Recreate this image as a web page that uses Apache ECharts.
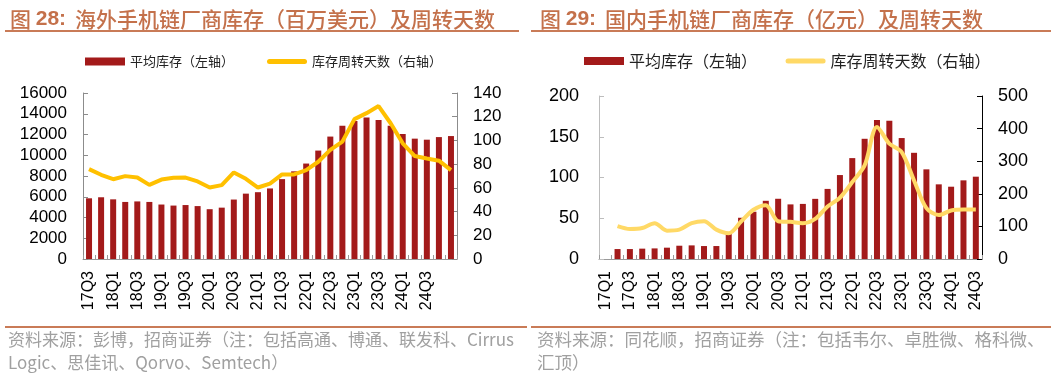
<!DOCTYPE html>
<html>
<head>
<meta charset="utf-8">
<script src="https://cdn.jsdelivr.net/npm/echarts@6/dist/echarts.min.js"></script>
<style>
html,body{margin:0;padding:0;background:#fff;}
#c{width:1054px;height:380px;}
</style>
</head>
<body>
<div id="c"></div>
<script>
// ---- Left chart (海外) ----
const catsL = ['17Q3','17Q4','18Q1','18Q2','18Q3','18Q4','19Q1','19Q2','19Q3','19Q4','20Q1','20Q2','20Q3','20Q4','21Q1','21Q2','21Q3','21Q4','22Q1','22Q2','22Q3','22Q4','23Q1','23Q2','23Q3','23Q4','24Q1','24Q2','24Q3','24Q4','25Q1'];
const invL = [5850,5950,5750,5500,5550,5500,5250,5150,5200,5100,4800,4950,5730,6300,6440,6800,7700,8450,9200,10450,11800,12850,13300,13650,13400,12850,12050,11600,11500,11750,11850];
const daysL = [75.8,71,67.3,69.9,68.7,62.5,67,68.5,68.7,65.4,60.3,62.3,73,67.6,60.3,63.6,71.3,71.3,75,82,92,99,118,123,129,114.5,97.6,86.8,84.8,82.9,75];
const ticksL = {left:[0,16000,2000], right:[0,140,20]};

// ---- Right chart (国内) ----
const catsR = ['17Q1','17Q2','17Q3','17Q4','18Q1','18Q2','18Q3','18Q4','19Q1','19Q2','19Q3','19Q4','20Q1','20Q2','20Q3','20Q4','21Q1','21Q2','21Q3','21Q4','22Q1','22Q2','22Q3','22Q4','23Q1','23Q2','23Q3','23Q4','24Q1','24Q2','24Q3'];
const invR = [null,12.2,12.2,12.7,13,13.9,16.3,16.7,15.9,15.9,30.6,50.6,58,71.4,73.9,67,67.6,73.8,86,103,123.8,147.5,170.5,169.7,148.4,130.3,110,91.6,88.7,96.5,101];
const daysR = [null,101,92,95,110,87,90,110,116,90,79,115,151,165,116,114,110,123,161,188,236,287,405,354,328,241,156,135,149,152,152];
const ticksR = {left:[0,200,50], right:[0,500,100]};

const BAR = '#A31A1A';
const LINE_L = '#FFC000';
const LINE_R = '#FFD966';
const TITLE_C = '#C4714B';
const NUM_FONT = 'Liberation Sans, Arial, sans-serif';
const CJK_FONT = '"Noto Sans CJK SC", sans-serif';
const LINE_ICON = 'path://M2.5,0 L37.5,0 A2.5,2.5 0 0 1 37.5,5 L2.5,5 A2.5,2.5 0 0 1 2.5,0 Z';

const chart = echarts.init(document.getElementById('c'), null, {renderer:'canvas'});

function yAxis(gridIndex, t, pos, lineColor, fs, margin){
  return {
    type:'value', gridIndex, position:pos, min:t[0], max:t[1], interval:t[2],
    axisLine:{show:true, lineStyle:{color:lineColor, width:1}},
    axisTick:{show:true, inside:true, length:5, lineStyle:{color:lineColor}},
    splitLine:{show:false},
    axisLabel:{color:'#000', fontSize:fs, fontFamily:NUM_FONT, margin:margin, formatter:(v)=>String(v)}
  };
}
function xAxis(gridIndex, cats, intervalFn){
  return {
    type:'category', gridIndex, data:cats, boundaryGap:true,
    axisLine:{show:true, lineStyle:{color:'#9a9a9a'}},
    axisTick:{show:true, inside:true, length:4, interval:0, lineStyle:{color:'#9a9a9a'}},
    axisLabel:{rotate:90, color:'#000', fontSize:16, fontFamily:NUM_FONT, margin:12, interval:intervalFn}
  };
}
const titleRich = {
  a:{fontSize:21, color:TITLE_C, fontFamily:CJK_FONT, fontWeight:500},
  b:{fontSize:21, color:TITLE_C, fontFamily:NUM_FONT, fontWeight:'bold'},
  s:{width:9}
};

const option = {
  animation:false,
  backgroundColor:'#fff',
  title:[
    {text:'{a|图 }{b|28:}{s|}{a|海外手机链厂商库存（百万美元）及周转天数}', left:5, top:4, textStyle:{rich:titleRich}},
    {text:'{a|图 }{b|29:}{s|}{a|国内手机链厂商库存（亿元）及周转天数}', left:535, top:4, textStyle:{rich:titleRich}}
  ],
  legend:[
    {left:80, top:50, itemWidth:40, itemHeight:8, itemGap:33,
     data:[{name:'平均库存（左轴）', icon:'rect'}, {name:'库存周转天数（右轴）', icon:LINE_ICON}],
     textStyle:{fontSize:13, color:'#222', fontFamily:CJK_FONT}},
    {left:579, top:48, itemWidth:40, itemHeight:8, itemGap:25,
     data:[{name:'平均库存（左轴） ', icon:'rect'}, {name:'库存周转天数（右轴） ', icon:LINE_ICON}],
     textStyle:{fontSize:16, color:'#222', fontFamily:CJK_FONT}}
  ],
  grid:[
    {left:83, top:93, width:374, height:166, containLabel:false},
    {left:599, top:96, width:383, height:163, containLabel:false}
  ],
  xAxis:[
    xAxis(0, catsL, (i)=> i%2===0 && i<30),
    xAxis(1, catsR, (i)=> i%2===0)
  ],
  yAxis:[
    yAxis(0, ticksL.left, 'left', '#8c8c8c', 17, 16),
    yAxis(0, ticksL.right, 'right', '#8c8c8c', 17, 16),
    yAxis(1, ticksR.left, 'left', '#bdbdbd', 18, 20),
    yAxis(1, ticksR.right, 'right', '#000', 18, 16)
  ],
  series:[
    {name:'平均库存（左轴）', type:'bar', xAxisIndex:0, yAxisIndex:0, data:invL, barWidth:6, itemStyle:{color:BAR}},
    {name:'库存周转天数（右轴）', type:'line', xAxisIndex:0, yAxisIndex:1, data:daysL, symbol:'none', lineStyle:{color:LINE_L, width:4}, itemStyle:{color:LINE_L}},
    {name:'平均库存（左轴） ', type:'bar', xAxisIndex:1, yAxisIndex:2, data:invR, barWidth:6, itemStyle:{color:BAR}},
    {name:'库存周转天数（右轴） ', type:'line', xAxisIndex:1, yAxisIndex:3, data:daysR, symbol:'none', smooth:0.3, lineStyle:{color:LINE_R, width:4}, itemStyle:{color:LINE_R}}
  ],
  graphic:[
    {type:'rect', shape:{x:5, y:30, width:514, height:2}, style:{fill:'#C97B57'}},
    {type:'rect', shape:{x:531, y:30, width:520, height:2}, style:{fill:'#C97B57'}},
    {type:'rect', shape:{x:5, y:326, width:522, height:2}, style:{fill:'#C97B57'}},
    {type:'rect', shape:{x:531, y:326, width:520, height:2}, style:{fill:'#C97B57'}},
    {type:'text', left:8, top:331, style:{text:'资料来源：彭博，招商证券（注：包括高通、博通、联发科、Cirrus', fill:'#a0a0a0', font:'17px "Noto Sans CJK SC", sans-serif'}},
    {type:'text', left:8, top:354, style:{text:'Logic、思佳讯、Qorvo、Semtech）', fill:'#a0a0a0', font:'17px "Noto Sans CJK SC", sans-serif'}},
    {type:'text', left:537, top:331, style:{text:'资料来源：同花顺，招商证券（注：包括韦尔、卓胜微、格科微、', fill:'#a0a0a0', font:'17.5px "Noto Sans CJK SC", sans-serif'}},
    {type:'text', left:537, top:354, style:{text:'汇顶）', fill:'#a0a0a0', font:'17.5px "Noto Sans CJK SC", sans-serif'}}
  ]
};
chart.setOption(option);
</script>
</body>
</html>
